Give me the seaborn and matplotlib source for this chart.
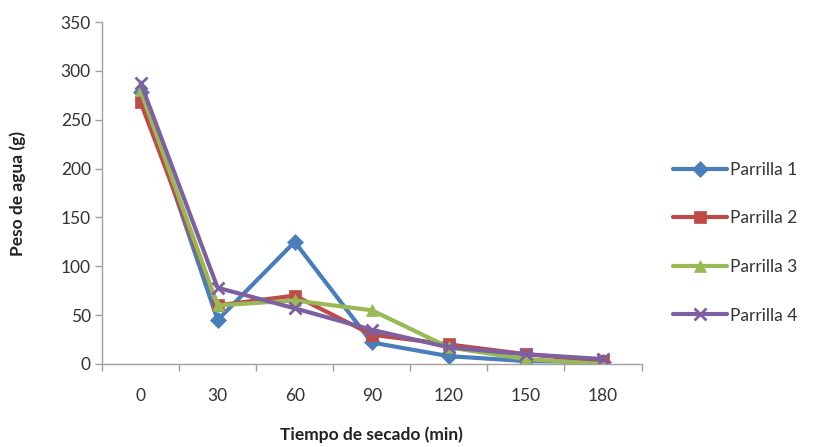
import matplotlib
matplotlib.use("Agg")
import matplotlib.pyplot as plt
import seaborn as sns
import pandas as pd
from matplotlib.ticker import FixedLocator

tiempo = [0, 30, 60, 90, 120, 150, 180]
parrilla_1 = [278, 45, 125, 22, 8, 3, 2]
parrilla_2 = [268, 60, 70, 30, 20, 10, 3]
parrilla_3 = [280, 60, 65, 55, 17, 5, 0]
parrilla_4 = [288, 78, 57, 35, 17, 10, 5]
series = ["Parrilla 1", "Parrilla 2", "Parrilla 3", "Parrilla 4"]
colors = ["#4A7EBB", "#BE4B48", "#98B954", "#7D60A0"]
markers = ["D", "s", "^", "x"]

df = pd.DataFrame({
    "Tiempo": tiempo * 4,
    "Peso": parrilla_1 + parrilla_2 + parrilla_3 + parrilla_4,
    "Serie": sum([[s] * len(tiempo) for s in series], []),
})

sns.set_style("white")
plt.rcParams["font.family"] = ["Lato", "DejaVu Sans"]

fig = plt.figure(figsize=(8.2, 4.47), dpi=100)
ax = fig.add_axes([0.1244, 0.1857, 0.658, 0.765])

for s, c, m in zip(series, colors, markers):
    sub = df[df["Serie"] == s]
    sns.lineplot(data=sub, x="Tiempo", y="Peso", ax=ax, color=c, marker=m,
                 markersize=8 if m != "x" else 9, markeredgewidth=2 if m == "x" else 0.5,
                 markeredgecolor=c, linewidth=3, label=s)

ax.set_xlim(-15, 195)
ax.set_ylim(0, 350)
ax.set_yticks(range(0, 351, 50))
ax.set_xticks(tiempo)
ax.xaxis.set_minor_locator(FixedLocator([-15 + 30 * i for i in range(8)]))
ax.tick_params(axis="x", which="major", length=0, labelsize=12.5, pad=17, labelcolor="#333333")
ax.tick_params(axis="x", which="minor", length=5, width=1, color="#A0A0A0", direction="out")
ax.tick_params(axis="y", length=5, width=1, color="#A0A0A0", direction="out", labelsize=12.5,
               pad=3, labelcolor="#333333")
ax.xaxis.set_ticks_position("bottom")
ax.yaxis.set_ticks_position("left")
for side in ["top", "right"]:
    ax.spines[side].set_visible(False)
for side in ["left", "bottom"]:
    ax.spines[side].set_color("#A0A0A0")
    ax.spines[side].set_linewidth(1)

ax.set_xlabel("Tiempo de secado (min)", fontsize=12.5, fontweight="bold", color="#222222")
ax.set_ylabel("Peso de agua (g)", fontsize=12.5, fontweight="bold", color="#222222")
ax.xaxis.set_label_coords(0.5, -0.183)
ax.yaxis.set_label_coords(-0.141, 0.5)

leg = ax.legend(loc="center left", bbox_to_anchor=(1.059, 0.355), frameon=False,
                fontsize=12.5, handlelength=3.1, handletextpad=0.15, labelspacing=1.88,
                borderpad=0, borderaxespad=0)
for t in leg.get_texts():
    t.set_color("#333333")

fig.savefig("out.png", dpi=100)
